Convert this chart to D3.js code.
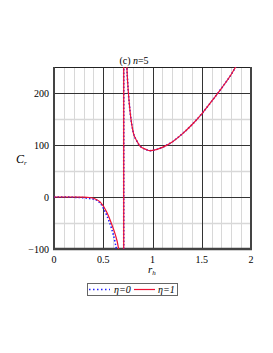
<!DOCTYPE html>
<html>
<head>
<meta charset="utf-8">
<script src="https://cdn.jsdelivr.net/npm/d3@7"></script>
<style>
body { margin: 0; background: #fff; }
text { font-family: "Liberation Serif", "DejaVu Serif", serif; }
</style>
</head>
<body>
<div id="main"></div>
<script>
// data
var xTicks = [0, 0.5, 1, 1.5, 2],
    yTicks = [-100, 0, 100, 200];

// eta = 1 : left branch, then right branch after the pole at r ~ 0.708
var rEta1Left = [0, 0.1, 0.2, 0.3, 0.36, 0.42, 0.47, 0.535, 0.585, 0.62, 0.653, 0.68, 0.7, 0.708],
    cEta1Left = [0, 0, 0, -0.3, -1, -4, -10, -29, -52, -71, -97, -145, -260, -5000];
var rEta1Right = [0.708, 0.715, 0.725, 0.74, 0.755, 0.772, 0.805, 0.84, 0.873, 0.94, 0.97, 1.0, 1.1, 1.2, 1.3, 1.4, 1.5, 1.6, 1.7, 1.8, 1.85, 1.9],
    cEta1Right = [5000, 700, 350, 250, 201, 165, 124, 108, 98, 91, 89, 89.5, 95.5, 106, 121, 139, 160, 184, 209, 236, 252, 268];

// eta = 0
var rEta0Left = [0, 0.1, 0.2, 0.3, 0.36, 0.42, 0.47, 0.535, 0.585, 0.62, 0.645, 0.67, 0.69, 0.708],
    cEta0Left = [0, 0, -0.5, -1.5, -3, -5, -12, -35, -61, -87, -115, -170, -300, -5000];
var rEta0Right = rEta1Right,
    cEta0Right = cEta1Right;

var W = 273, H = 353,
    margin = {top: 67, left: 54},
    pw = 197, ph = 182;

var svg = d3.select("#main").append("svg")
    .attr("width", W)
    .attr("height", H);

var x = d3.scaleLinear().domain([0, 2]).range([margin.left, margin.left + pw]);
var y = d3.scaleLinear().domain([-100, 250]).range([margin.top + ph, margin.top]);

var g = svg.append("g");

// minor grid
g.selectAll(".vminor").data(d3.range(1, 20).filter(function(i){ return i % 5 != 0; }))
  .enter().append("line")
  .attr("x1", function(i){ return Math.round(x(i / 10)) + 0.5; })
  .attr("x2", function(i){ return Math.round(x(i / 10)) + 0.5; })
  .attr("y1", y(-100)).attr("y2", y(250))
  .attr("stroke", "#d8d8d8").attr("stroke-width", 1);

g.selectAll(".hminor").data([-50, 50, 150])
  .enter().append("line")
  .attr("y1", function(d){ return Math.round(y(d)) + 0.5; })
  .attr("y2", function(d){ return Math.round(y(d)) + 0.5; })
  .attr("x1", x(0)).attr("x2", x(2))
  .attr("stroke", "#d8d8d8").attr("stroke-width", 1.5);

// major grid
g.selectAll(".vmajor").data([0.5, 1, 1.5])
  .enter().append("line")
  .attr("x1", function(d){ return Math.round(x(d)) + 0.5; })
  .attr("x2", function(d){ return Math.round(x(d)) + 0.5; })
  .attr("y1", y(-100)).attr("y2", y(250))
  .attr("stroke", "#333").attr("stroke-width", 1);

g.selectAll(".hmajor").data([0, 100, 200])
  .enter().append("line")
  .attr("y1", function(d){ return Math.round(y(d)) + 0.5; })
  .attr("y2", function(d){ return Math.round(y(d)) + 0.5; })
  .attr("x1", x(0)).attr("x2", x(2))
  .attr("stroke", "#333").attr("stroke-width", 1);

// curves
svg.append("clipPath").attr("id", "clip")
  .append("rect").attr("x", x(0)).attr("y", y(250)).attr("width", pw).attr("height", ph);

var line = d3.line()
  .x(function(d){ return x(d[0]); })
  .y(function(d){ return y(d[1]); })
  .curve(d3.curveMonotoneX);

var straight = d3.line()
  .x(function(d){ return x(d[0]); })
  .y(function(d){ return y(d[1]); });

function pts(rs, cs){ return rs.map(function(r, i){ return [r, cs[i]]; }); }

var curves = svg.append("g").attr("clip-path", "url(#clip)");

// each series: left branch, right branch, and the jump joining them at the pole
function drawSeries(rl, cl, rr, cr, stroke, width, dash){
  var left = pts(rl, cl), right = pts(rr, cr);
  [left, right, [left[left.length - 1], right[0]]].forEach(function(p, i){
    curves.append("path").datum(p)
      .attr("d", i < 2 ? line : straight)
      .attr("fill", "none")
      .attr("stroke", stroke)
      .attr("stroke-width", width)
      .attr("stroke-dasharray", dash);
  });
}

drawSeries(rEta0Left, cEta0Left, rEta0Right, cEta0Right, "#2020ff", 1.6, "1.5,2");
drawSeries(rEta1Left, cEta1Left, rEta1Right, cEta1Right, "#ee1133", 1.2, null);

// frame
g.append("line").attr("x1", x(0)).attr("x2", x(2)).attr("y1", y(250) + 0.5).attr("y2", y(250) + 0.5)
  .attr("stroke", "#222").attr("stroke-width", 1);
g.append("line").attr("x1", x(0)).attr("x2", x(0)).attr("y1", y(250)).attr("y2", y(-100) + 1)
  .attr("stroke", "#444").attr("stroke-width", 2);
g.append("line").attr("x1", x(2)).attr("x2", x(2)).attr("y1", y(250)).attr("y2", y(-100) + 1)
  .attr("stroke", "#444").attr("stroke-width", 2);
g.append("line").attr("x1", x(0) - 1).attr("x2", x(2) + 1).attr("y1", y(-100)).attr("y2", y(-100))
  .attr("stroke", "#444").attr("stroke-width", 2.5);

// tick labels
svg.selectAll(".xt").data(xTicks).enter().append("text")
  .attr("x", function(d){ return x(d); })
  .attr("y", y(-100) + 14)
  .attr("text-anchor", "middle")
  .attr("font-size", 10)
  .text(function(d){ return d; });

svg.selectAll(".yt").data(yTicks).enter().append("text")
  .attr("x", x(0) - 5)
  .attr("y", function(d){ return y(d) + 3.5; })
  .attr("text-anchor", "end")
  .attr("font-size", 10)
  .text(function(d){ return d < 0 ? "\u2212" + (-d) : d; });

// title
var title = svg.append("text")
  .attr("x", 134).attr("y", 64)
  .attr("text-anchor", "middle")
  .attr("font-size", 10);
title.append("tspan").text("(c) ");
title.append("tspan").attr("font-style", "italic").text("n");
title.append("tspan").text("=5");

// axis labels
var yl = svg.append("text").attr("x", 16).attr("y", 163).attr("font-size", 12).attr("font-style", "italic");
yl.append("tspan").text("C");
yl.append("tspan").attr("font-size", 7).attr("dy", 2).text("r");

var xl = svg.append("text").attr("x", 148).attr("y", 273).attr("font-size", 11).attr("font-style", "italic");
xl.append("tspan").text("r");
xl.append("tspan").attr("font-size", 7).attr("dy", 2).text("h");

// legend
var lg = svg.append("g");
lg.append("rect").attr("x", 87.5).attr("y", 283.5).attr("width", 90).attr("height", 12)
  .attr("fill", "#fff").attr("stroke", "#666").attr("stroke-width", 1);
lg.append("line").attr("x1", 89).attr("x2", 110).attr("y1", 289.5).attr("y2", 289.5)
  .attr("stroke", "#2020ff").attr("stroke-width", 1.6).attr("stroke-dasharray", "1.5,2.5");
lg.append("text").attr("x", 114).attr("y", 293).attr("font-size", 10).attr("font-style", "italic").text("\u03B7=0");
lg.append("line").attr("x1", 134).attr("x2", 155).attr("y1", 289.5).attr("y2", 289.5)
  .attr("stroke", "#ee1133").attr("stroke-width", 1.2);
lg.append("text").attr("x", 158).attr("y", 293).attr("font-size", 10).attr("font-style", "italic").text("\u03B7=1");
</script>
</body>
</html>
